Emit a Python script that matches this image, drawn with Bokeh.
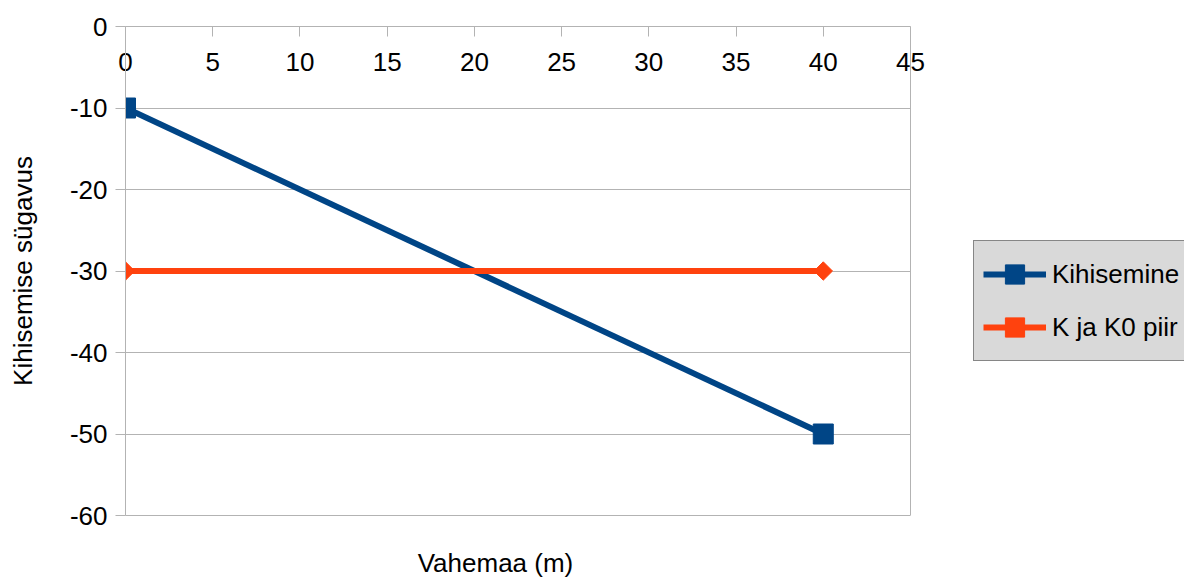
from bokeh.plotting import figure
from bokeh.models import (Range1d, FixedTicker, Legend, LegendItem, Span, Grid,
                          ColumnDataSource, PrintfTickFormatter, LinearAxis)
from bokeh.embed import file_html
from bokeh.resources import INLINE
import numpy as np

# ---- data ----
vahemaa = [0, 40]
kihisemine = [-10, -50]
piir = [-30, -30]
series_labels = ["Kihisemine", "K ja K0 piir"]
x_ticks = [0, 5, 10, 15, 20, 25, 30, 35, 40, 45]
y_ticks = [-60, -50, -40, -30, -20, -10, 0]
x_title = "Vahemaa (m)"
y_title = "Kihisemise sügavus"

FONT = "Liberation Sans"
FS = "26px"
BLUE = "#004586"
ORANGE = "#ff420e"
GRID = "#b3b3b3"

# plot area spans x 0..45 (125..910 px); the frame runs on to the page edge
X_MIN, X_MAX = x_ticks[0], x_ticks[-1]
X_VIEW_END = X_MAX * (1184 - 125) / (910 - 125)
X_TITLE_AT = X_MAX * (495 - 125) / (910 - 125)   # where the x title is centred

p = figure(width=1184, height=580, output_backend="svg", toolbar_location=None,
           x_range=Range1d(X_MIN, X_VIEW_END), y_range=Range1d(y_ticks[0], y_ticks[-1]),
           x_axis_location="above",
           min_border_left=125, min_border_right=0,
           min_border_top=26, min_border_bottom=65)
p.background_fill_color = "white"
p.border_fill_color = "white"
p.outline_line_color = None

# grid, bounded to the plot area
p.xgrid.visible = False
if "cross_bounds" in Grid.properties():
    p.ygrid.ticker = FixedTicker(ticks=y_ticks)
    p.ygrid.grid_line_color = GRID
    p.ygrid.grid_line_width = 1
    p.ygrid.cross_bounds = (X_MIN, X_MAX)
else:
    p.ygrid.visible = False
    p.segment(x0=[X_MIN] * len(y_ticks), x1=[X_MAX] * len(y_ticks),
              y0=y_ticks, y1=y_ticks, line_color=GRID, line_width=1)
p.add_layout(Span(location=X_MAX, dimension="height", line_color=GRID,
                  line_width=1))

src1 = ColumnDataSource(dict(x=vahemaa, y=kihisemine))
src2 = ColumnDataSource(dict(x=vahemaa, y=piir))

l1 = p.line("x", "y", source=src1, line_color=BLUE, line_width=6)
s1 = p.scatter("x", "y", source=src1, marker="square", size=20,
               fill_color=BLUE, line_color=BLUE)
l2 = p.line("x", "y", source=src2, line_color=ORANGE, line_width=6)
s2 = p.scatter("x", "y", source=src2, marker="square", size=13, angle=np.pi / 4,
               fill_color=ORANGE, line_color=ORANGE)

# x axis on top, ticks and labels hanging into the plot area
xa = p.xaxis[0]
xa.ticker = FixedTicker(ticks=x_ticks)
xa.formatter = PrintfTickFormatter(format="%d")
xa.bounds = (X_MIN, X_MAX)
xa.axis_line_color = GRID
xa.major_tick_line_color = GRID
xa.major_tick_out = 0
xa.major_tick_in = 10
xa.minor_tick_line_color = None
xa.major_label_standoff = -44
xa.major_label_text_font = FONT
xa.major_label_text_font_size = FS
xa.major_label_text_color = "black"

# bottom axis: draws the bottom border of the plot area and carries the x title
xb = LinearAxis(ticker=FixedTicker(ticks=[X_TITLE_AT]),
                major_label_overrides={X_TITLE_AT: x_title},
                bounds=(X_MIN, X_MAX),
                axis_line_color=GRID, axis_line_width=1,
                major_tick_line_color=None, minor_tick_line_color=None,
                major_tick_out=0, major_tick_in=0, major_label_standoff=32,
                major_label_text_font=FONT, major_label_text_font_size=FS,
                major_label_text_color="black")
p.add_layout(xb, "below")

ya = p.yaxis[0]
ya.ticker = FixedTicker(ticks=y_ticks)
ya.formatter = PrintfTickFormatter(format="%d")
ya.axis_line_color = GRID
ya.major_tick_line_color = GRID
ya.major_tick_out = 10
ya.major_tick_in = 0
ya.minor_tick_line_color = None
ya.major_label_standoff = 8
ya.major_label_text_font = FONT
ya.major_label_text_font_size = FS
ya.major_label_text_color = "black"
ya.axis_label = y_title
ya.axis_label_text_font = FONT
ya.axis_label_text_font_size = FS
ya.axis_label_text_font_style = "normal"
ya.axis_label_text_color = "black"
ya.axis_label_standoff = 29

legend = Legend(items=[LegendItem(label=series_labels[0], renderers=[l1, s1]),
                       LegendItem(label=series_labels[1], renderers=[l2, s2])],
                location=(848, 154), orientation="vertical",
                padding=9, spacing=5, margin=0,
                glyph_width=63, glyph_height=48, label_standoff=6,
                label_text_font=FONT, label_text_font_size=FS,
                label_text_color="black",
                background_fill_color="#d9d9d9", background_fill_alpha=1,
                border_line_color="#333333", border_line_width=1)
p.add_layout(legend, "center")

open("out.html", "w").write(file_html(p, INLINE))
